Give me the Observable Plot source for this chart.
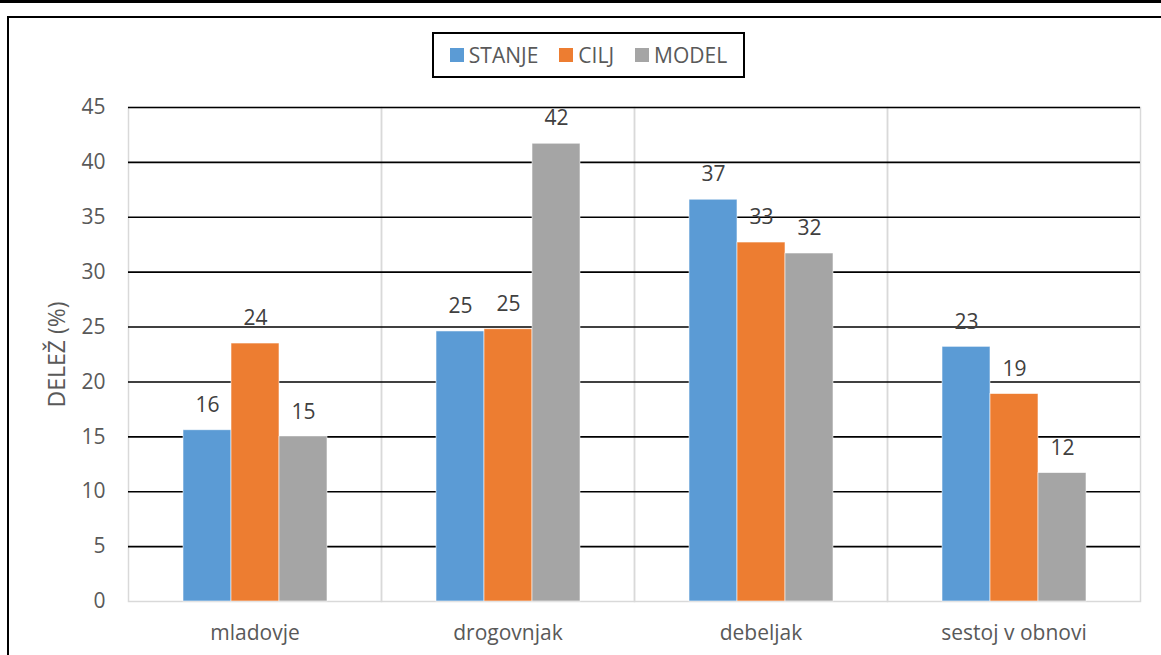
<!DOCTYPE html>
<html>
<head>
<meta charset="utf-8">
<script src="https://cdn.jsdelivr.net/npm/d3@7"></script>
<script src="https://cdn.jsdelivr.net/npm/@observablehq/plot@0.6"></script>
<style>
  html, body { margin: 0; padding: 0; background: #fff; overflow: hidden; }
  #page { position: relative; width: 1161px; height: 655px; font-family: "Open Sans", sans-serif; }
  #topline { position: absolute; left: 0; top: 0; width: 1161px; height: 3px; background: #000; }
  #frameTop { position: absolute; left: 7px; top: 16px; width: 1154px; height: 2px; background: #000; }
  #frameLeft { position: absolute; left: 7px; top: 16px; width: 2px; height: 639px; background: #000; }
  #legend { position: absolute; left: 432px; top: 32px; width: 309px; height: 42px; border: 2px solid #000;
            display: flex; align-items: center; justify-content: center; gap: 21px; font-size: 21px; color: #595959; }
  #legend .item { display: flex; align-items: center; gap: 5px; }
  #legend .sw { width: 14px; height: 14px; display: inline-block; }
  #chart { position: absolute; left: 0; top: 90px; }
  #chart g[aria-label="y-axis label"] text { font-size: 23px; }
</style>
</head>
<body>
<div id="page">
  <div id="topline"></div>
  <div id="frameTop"></div>
  <div id="frameLeft"></div>
  <div id="legend"></div>
  <div id="chart"></div>
</div>
<script>
const categories = ["mladovje", "drogovnjak", "debeljak", "sestoj v obnovi"];
const series = ["STANJE", "CILJ", "MODEL"];
const stanje = [15.6, 24.6, 36.6, 23.2];
const cilj = [23.5, 24.8, 32.7, 18.9];
const model = [15.0, 41.7, 31.7, 11.7];
const colors = ["#5B9BD5", "#ED7D31", "#A5A5A5"];
const yTicks = [0, 5, 10, 15, 20, 25, 30, 35, 40, 45];

const values = [stanje, cilj, model];
const data = [];
categories.forEach((c, i) => {
  series.forEach((s, j) => data.push({category: c, series: s, value: values[j][i]}));
});

// legend
const legend = document.getElementById("legend");
series.forEach((s, j) => {
  const it = document.createElement("span");
  it.className = "item";
  const sw = document.createElement("span");
  sw.className = "sw";
  sw.style.background = colors[j];
  const tx = document.createElement("span");
  tx.textContent = s;
  it.appendChild(sw); it.appendChild(tx);
  legend.appendChild(it);
});

const chart = Plot.plot({
  width: 1161,
  height: 565,
  marginTop: 17,
  marginBottom: 54,
  marginLeft: 128,
  marginRight: 21,
  style: {fontFamily: "Open Sans, sans-serif", fontSize: "21px", color: "#595959", background: "transparent", overflow: "visible"},
  fx: {domain: categories, padding: 0, axis: "bottom", label: null, tickSize: 0, tickPadding: 24},
  x: {domain: series, axis: null, paddingInner: 0, paddingOuter: 1.1},
  y: {domain: [0, 45], ticks: yTicks, tickSize: 0, tickPadding: 23, label: "DELEŽ (%)", labelAnchor: "center", labelArrow: "none", labelOffset: 80},
  color: {domain: series, range: colors},
  marks: [
    Plot.frame({stroke: "#d9d9d9", strokeWidth: 1.5}),
    Plot.ruleY(yTicks.filter(d => d > 0), {stroke: "#000", strokeWidth: 1.6}),
    Plot.barY(data, {fx: "category", x: "series", y: "value", fill: "series", stroke: "#fff", strokeWidth: 0.8, strokeOpacity: 0.7}),
    Plot.text(data, {fx: "category", x: "series", y: "value", text: d => String(Math.round(d.value)), dy: -25, fill: "#404040", fontSize: 21})
  ]
});
document.getElementById("chart").appendChild(chart);
</script>
</body>
</html>
